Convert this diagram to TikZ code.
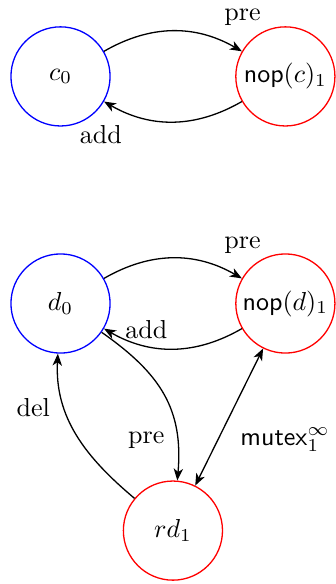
\documentclass[tikz,border=0pt]{standalone}
\usetikzlibrary{arrows.meta}
\begin{document}
\begin{tikzpicture}[>={Stealth[length=4.6pt, width=3.6pt, inset=1.3pt]}, line width=0.5pt, pnode/.style={circle, draw, minimum size=1.34cm, inner sep=0pt}]
\useasboundingbox (-0.818,-3.792) rectangle (3.711,4.103);

\node [pnode, draw=blue] (c0) at (0,3.07) {$c_0$};
\node [pnode, draw=red] (nopc) at (3.04,3.07) {$\mathsf{nop}(c)_1$};
\node [pnode, draw=blue] (d0) at (0,0) {$d_0$};
\node [pnode, draw=red] (nopd) at (3.04,0) {$\mathsf{nop}(d)_1$};
\node [pnode, draw=red] (rd1) at (1.52,-3.07) {$rd_1$};

\draw [->] (c0) to [bend left=30] (nopc);
\draw [->] (nopc) to [bend left=30] (c0);
\draw [->] (d0) to [bend left=30] (nopd);
\draw [->] (nopd) to [bend left=30] (d0);
\draw [->] (d0) to [out=-35, in=85, looseness=1.1] (rd1);
\draw [->] (rd1) to [out=140, in=-93] (d0);
\draw [<->] (nopd) -- (rd1);

\node (pre1) at (2.461,3.867) {pre};
\node (add1) at (0.545,2.282) {add};
\node (pre2) at (2.461,0.791) {pre};
\node (add2) at (1.160,-0.358) {add};
\node (del1) at (-0.368,-1.413) {del};
\node (pre3) at (1.160,-1.845) {pre};
\node (mutex) at (3.035,-1.845) {$\mathsf{mutex}_1^\infty$};
\end{tikzpicture}
\end{document}
